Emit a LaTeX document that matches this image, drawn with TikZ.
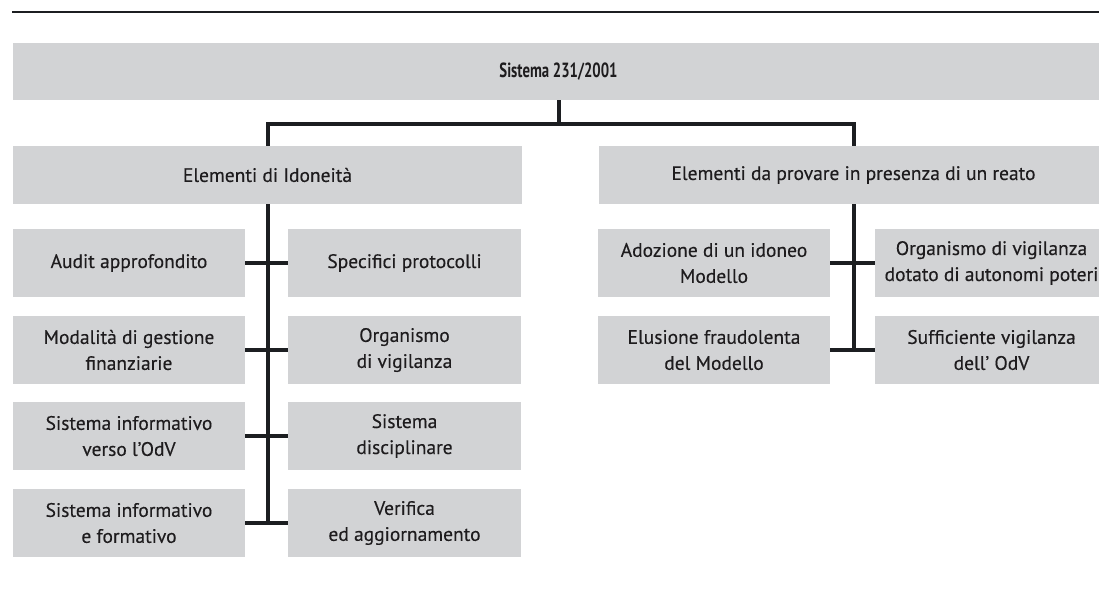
\documentclass[tikz,border=0pt]{standalone}
\usepackage{fontspec}
\setmainfont{PT Sans}[FakeBold=0.3]
\newfontfamily\titlefont{PT Sans}[FakeStretch=0.72]
\definecolor{boxgray}{RGB}{210,211,213}
\definecolor{linec}{RGB}{28,30,33}
\definecolor{textc}{RGB}{30,28,30}
\tikzset{
  box/.style={fill=boxgray, draw=none, inner sep=0pt, align=center, text=textc,
    font=\fontsize{19.5}{26}\selectfont},
  cell/.style={box, minimum width=232pt, minimum height=68pt},
  wide/.style={box, minimum width=509pt, minimum height=58pt},
  conn/.style={draw=linec, line width=4pt},
}
\begin{document}
\begin{tikzpicture}[x=1pt,y=-1pt]
\useasboundingbox (0,0) rectangle (1099,592);
% top rule
\coordinate (ruleA) at (12,12);
\coordinate (ruleB) at (1099,12);
\draw[draw=linec, line width=2.2pt] (ruleA) -- (ruleB);

% top box
\node[box, minimum width=1092pt, minimum height=57pt, font=\fontsize{20.5}{26}\selectfont\titlefont\bfseries] (top) at (558.5,71.5) {Sistema 231/2001};

% middle boxes
\node[wide] (midL) at (267.5,175) {Elementi di Idoneità};
\node[wide] (midR) at (853.5,175) {Elementi da provare in presenza di un reato};

% left group
\node[cell] (aL1) at (129,263) {Audit approfondito};
\node[cell, minimum width=233pt] (aR1) at (404.5,263) {Specifici protocolli};
\node[cell] (aL2) at (129,350) {Modalità di gestione\\finanziarie};
\node[cell, minimum width=233pt] (aR2) at (404.5,350) {Organismo\\di vigilanza};
\node[cell] (aL3) at (129,436) {Sistema informativo\\verso l’OdV};
\node[cell, minimum width=233pt] (aR3) at (404.5,436) {Sistema\\disciplinare};
\node[cell] (aL4) at (129,523) {Sistema informativo\\e formativo};
\node[cell, minimum width=233pt] (aR4) at (404.5,523) {Verifica\\ed aggiornamento};

% right group
\node[cell] (bL1) at (714,263) {Adozione di un idoneo\\Modello};
\node[cell, minimum width=233pt] (bR1) at (991.5,263) {Organismo di vigilanza\\dotato di autonomi poteri};
\node[cell] (bL2) at (714,350) {Elusione fraudolenta\\del Modello};
\node[cell, minimum width=233pt] (bR2) at (991.5,350) {Sufficiente vigilanza\\dell’ OdV};

% connectors
\coordinate (bar) at (558.5,124);
\draw[conn] (top.south) -- (top.south |- bar);
\draw[conn] (midL.north) |- (bar) -| (midR.north);

\draw[conn] (midL.south) -- (midL.south |- aL4.east);
\foreach \i in {1,2,3,4}{\draw[conn] (aL\i.east) -- (aR\i.west);}

\draw[conn] (midR.south) -- (midR.south |- bL2.east);
\foreach \i in {1,2}{\draw[conn] (bL\i.east) -- (bR\i.west);}
\end{tikzpicture}
\end{document}
